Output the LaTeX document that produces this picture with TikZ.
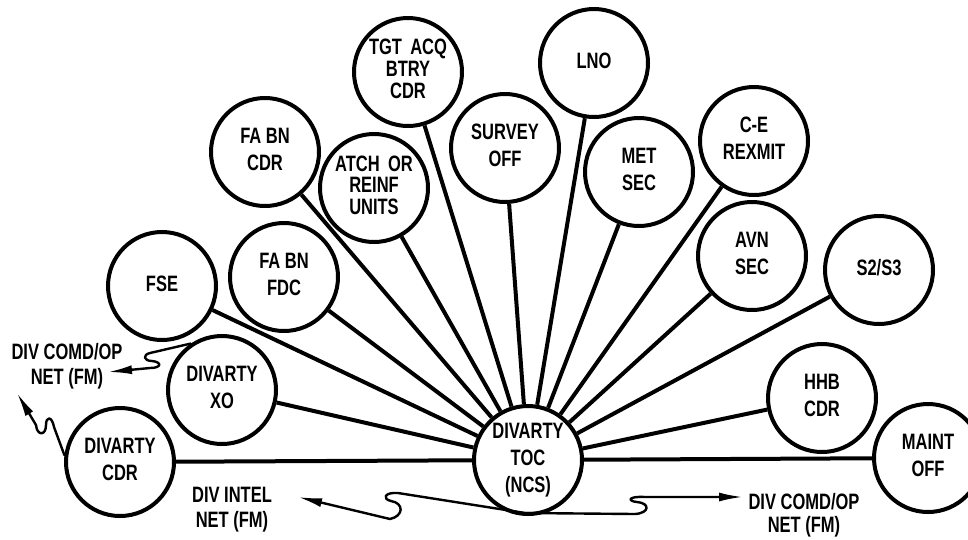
\documentclass[tikz,border=0pt]{standalone}
\usepackage{fontspec}
\setmainfont{Liberation Sans}
\usepackage{graphicx}
\usetikzlibrary{arrows.meta}
\newcommand{\lbl}[2][20]{\scalebox{1}[1.35]{\bfseries\fontsize{16.5}{#1}\selectfont\begin{tabular}{@{}c@{}}#2\end{tabular}}}
\tikzset{
  circ/.style={draw, circle, line width=4pt, minimum size=108pt, inner sep=0pt, fill=white},
  link/.style={line width=4pt},
  wave/.style={line width=2.4pt, line join=round, line cap=round},
  longtip/.style={-{Latex[length=24pt,width=9pt]}},
  bothtip/.style={{Latex[length=24pt,width=9pt]}-{Latex[length=24pt,width=9pt]}},
  txt/.style={inner sep=0pt}
}
\begin{document}
\begin{tikzpicture}[x=1pt,y=-1pt]
\useasboundingbox (0,0) rectangle (968,539);
\node[circ] (tgt) at (408,72) {\lbl[16.5]{TGT\enspace ACQ\\BTRY\\CDR}};
\node[circ] (lno) at (594,63) {\lbl{LNO}};
\node[circ] (facdr) at (265,152) {\lbl{FA BN\\CDR}};
\node[circ] (atch) at (374,188) {\lbl[14.5]{ATCH\enspace OR\\REINF\\UNITS}};
\node[circ] (survey) at (505,148) {\lbl{SURVEY\\OFF}};
\node[circ] (met) at (639,172) {\lbl{MET\\SEC}};
\node[circ] (ce) at (754,141) {\lbl{C-E\\REXMIT}};
\node[circ] (fse) at (162,286) {\lbl{FSE}};
\node[circ] (fdc) at (284,277) {\lbl{FA BN\\FDC}};
\node[circ] (avn) at (752,256) {\lbl{AVN\\SEC}};
\node[circ] (s23) at (879,270) {\lbl{S2/S3}};
\node[circ] (xo) at (222,390) {\lbl{DIVARTY\\XO}};
\node[circ] (hhb) at (822,398) {\lbl{HHB\\CDR}};
\node[circ] (cdr) at (120,462) {\lbl{DIVARTY\\CDR}};
\node[circ] (toc) at (528,460) {\lbl[20]{DIVARTY\\TOC\\(NCS)}};
\node[circ] (maint) at (928,458) {\lbl{MAINT\\OFF}};
\foreach \n in {tgt,lno,facdr,atch,survey,met,ce,fse,fdc,avn,s23,xo,hhb,cdr,maint}
  \draw[link] (\n) -- (toc);
% labels
\node[txt] (lcomd) at (67,367) {\lbl[18.5]{DIV COMD/OP\\NET (FM)}};
\node[txt] (intel) at (232,510) {\lbl[18.5]{DIV INTEL\\NET (FM)}};
\node[txt] (rcomd) at (804,516) {\lbl[16.5]{DIV COMD/OP\\NET (FM)}};
\coordinate (intelTip) at (298,497);
\coordinate (comdTip) at (743,497);
\coordinate (lcomdTip) at (108,372);
\coordinate (cdrTip) at (17,393);
% wavy net lines
\draw[wave,bothtip] (intelTip) -- (390,519) .. controls (404,516) and (404,503) .. (391,501)
  .. controls (382,499) and (384,492) .. (398,493) -- (525,513) -- (635,514)
  .. controls (650,513) and (650,503) .. (637,502) .. controls (627,501) and (628,496) .. (645,497)
  -- (comdTip);
\draw[wave,longtip] (xo.124) -- (150,353) .. controls (142,355) and (144,361) .. (152,361)
  .. controls (162,362) and (162,368) .. (150,368) -- (lcomdTip);
\draw[wave,longtip] (cdr.173) -- (54,427) .. controls (52,416) and (46,416) .. (46,425)
  .. controls (46,436) and (37,436) .. (36,425) -- (cdrTip);
\end{tikzpicture}
\end{document}
